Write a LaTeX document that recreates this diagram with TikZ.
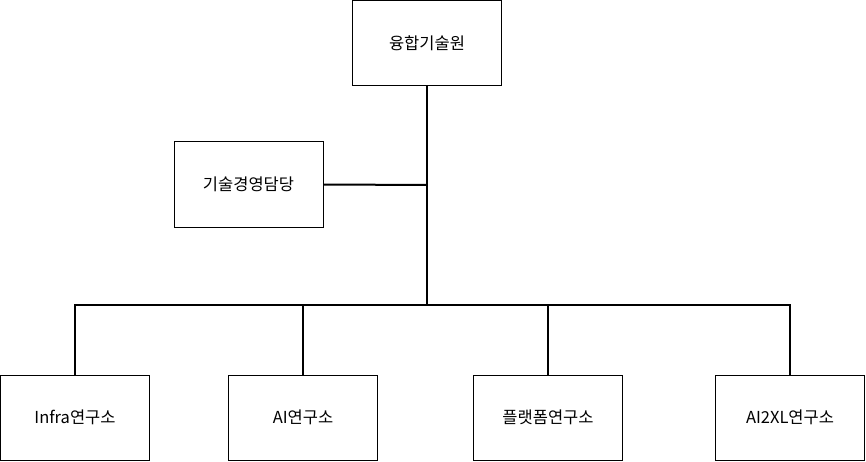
\documentclass[tikz,border=0pt]{standalone}
\usepackage{fontspec}
\setmainfont{Noto Sans CJK KR}
\begin{document}
\begin{tikzpicture}[x=1pt,y=-1pt,
  box/.style={draw,line width=1pt,minimum width=149pt,minimum height=85pt,inner sep=0pt,font=\fontsize{16.5}{19}\selectfont},
  conn/.style={line width=2pt}]
\useasboundingbox (0,0) rectangle (866,462);
\node[box] (top) at (427,43.5) {융합기술원};
\node[box] (mgmt) at (248.5,184.5) {기술경영담당};
\node[box] (b1) at (75,417.5) {Infra연구소};
\node[box] (b2) at (303,417.5) {AI연구소};
\node[box] (b3) at (548,417.5) {플랫폼연구소};
\node[box] (b4) at (790,417.5) {AI2XL연구소};
\coordinate (m) at (427,185);
\coordinate (bus) at (427,305);
\draw[conn] (top.south) -- (bus);
\draw[conn] (mgmt.east) -- (m);
\draw[conn] (b1.north) -- (75,305) -- (790,305) -- (b4.north);
\draw[conn] (b2.north) -- (303,305);
\draw[conn] (b3.north) -- (548,305);
\end{tikzpicture}
\end{document}
